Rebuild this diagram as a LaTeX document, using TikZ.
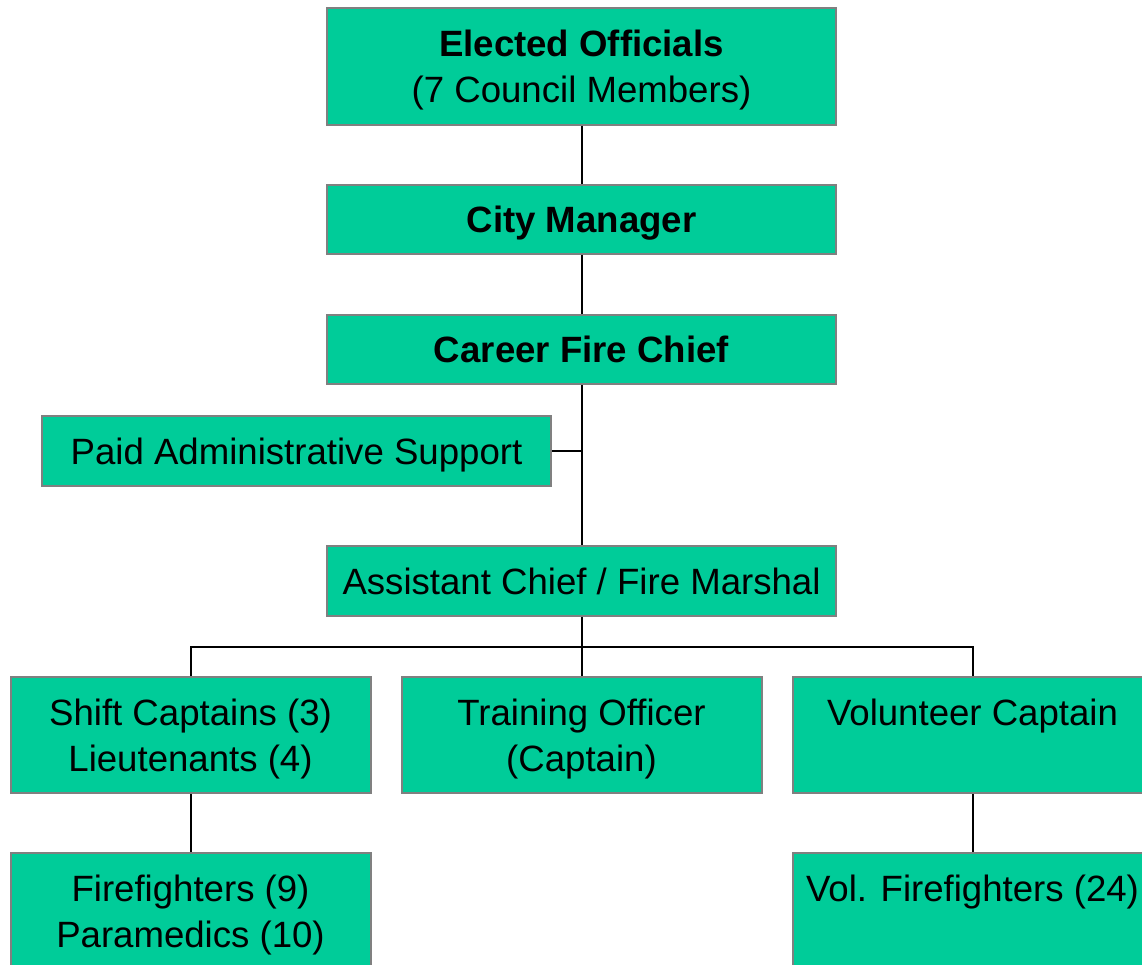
\documentclass[tikz,border=0pt]{standalone}
\usepackage{fontspec}
\setmainfont{Liberation Sans}
\definecolor{boxfill}{HTML}{00CC99}
\definecolor{boxline}{HTML}{808080}
\begin{document}
\begin{tikzpicture}[x=1pt,y=-1pt,
  orgbox/.style={rectangle, draw=boxline, line width=2pt, fill=boxfill,
    inner sep=0pt, align=center, minimum width=509pt, text=black,
    text depth=0pt, font=\fontsize{36.6}{46}\selectfont},
  smallbox/.style={orgbox, minimum width=360pt, minimum height=116pt},
  conn/.style={draw=black, line width=2pt}]
\useasboundingbox (0,0) rectangle (1142,965);
\clip (0,0) rectangle (1142,965);
\node[orgbox, minimum height=117pt] (elected) at (581.5,66.5) {\textbf{Elected Officials}\\(7 Council Members)};
\node[orgbox, minimum height=69pt] (city) at (581.5,219.5) {\textbf{City Manager}};
\node[orgbox, minimum height=69pt] (career) at (581.5,349.5) {\textbf{Career Fire Chief}};
\node[orgbox, minimum height=70pt] (admin) at (296.5,451) {Paid Administrative Support};
\node[orgbox, minimum height=70pt] (assist) at (581.5,581) {Assistant Chief / Fire Marshal};
\node[smallbox] (shift) at (190.5,735) {Shift Captains (3)\\Lieutenants (4)};
\node[smallbox] (train) at (581.5,735) {Training Officer\\(Captain)};
\node[smallbox] (vol) at (972.5,735) {Volunteer Captain\\\mbox{}};
\node[smallbox] (ff) at (190.5,911) {Firefighters (9)\\Paramedics (10)};
\node[smallbox] (volff) at (972.5,911) {Vol. Firefighters (24)\\\mbox{}};
\coordinate (bus) at (581.5,647);
\draw[conn] (elected.south) -- (city.north);
\draw[conn] (city.south) -- (career.north);
\draw[conn] (career.south) -- (assist.north);
\draw[conn] (admin.east) -- (career.south |- admin.east);
\draw[conn] (assist.south) -- (bus);
\draw[conn] (shift.north) |- (bus) -| (vol.north);
\draw[conn] (bus) -- (train.north);
\draw[conn] (shift.south) -- (ff.north);
\draw[conn] (vol.south) -- (volff.north);
\end{tikzpicture}
\end{document}
